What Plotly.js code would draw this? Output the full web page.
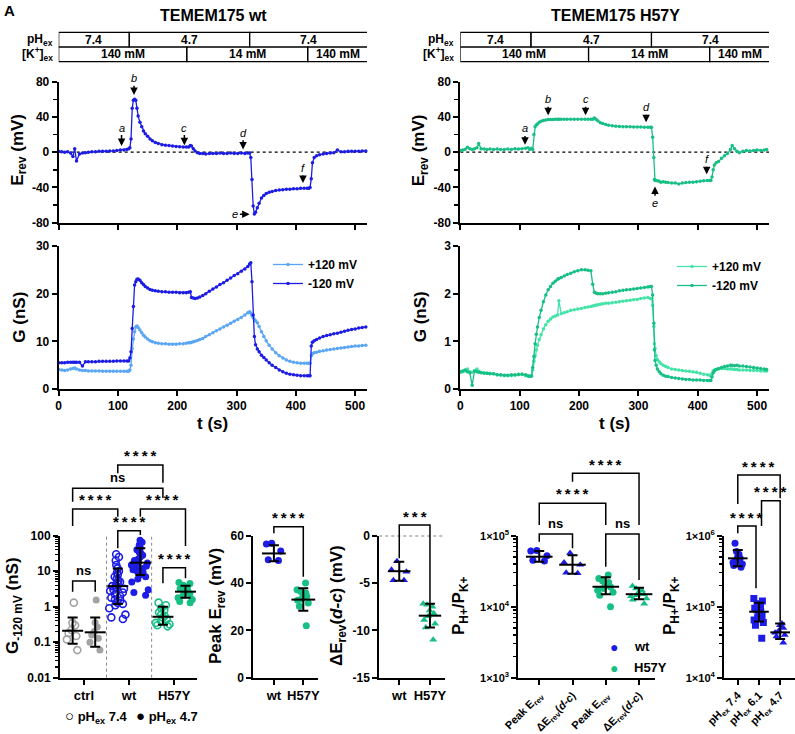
<!DOCTYPE html>
<html>
<head>
<meta charset="utf-8">
<script src="https://cdn.plot.ly/plotly-3.0.1.min.js"></script>
<style>html,body{margin:0;padding:0;background:#fff}#chart{width:795px;height:734px}</style>
</head>
<body>
<div id="chart"></div>
<script>
// ---------- recordings: TEMEM175 wt ----------
const WT_T = [
  0,5,10,15,20,24,27,30,35,40,45,50,56,62,68,74,80,86,92,98,104,110,115,
  118,120,122,124,126,128,130,132,134,137,140,143,146,
  150,154,158,163,168,174,180,186,192,198,204,210,215,219,
  222,224,227,230,234,238,243,248,254,260,266,272,278,284,290,296,302,308,314,319,
  322,324,326,328,330,332,335,338,342,346,350,355,360,366,372,378,384,390,396,402,408,414,419,
  422,424,426,428,431,435,440,446,452,458,464,470,476,482,488,494,500,506,512,518];
const WT_EREV = [
  1,0.5,0,0.5,-1,-5,4,-10,-2,-1,-0.5,0,0.5,0.5,1,1,1,1.5,1.5,2,2.5,2.5,3,
  4,5,15,50,59,60,59,50,41,34,29,24,21,
  18,15,13,11,10,8.5,8,7.5,7,6.5,6.2,6,5.8,6,
  7.5,7,4,1.5,-0.5,-1.5,-1.5,-2,-1.5,-1.5,-1.5,-1,-1.5,-1.5,-1,-1.5,-1.5,-1,-1.5,-1,
  -1,-6,-31,-61,-70,-68,-63,-58,-52,-49,-47,-45.5,-44.5,-43.5,-43,-42.5,-42,-42,-41.5,-41.5,-41,-41,-41,
  -41,-40,-30,-12,-6,-4,-3,-2,-1.5,-1,-0.5,2.5,0.5,0.5,1,1,1,1,1.5,1.5];
const WT_G_NEG = [
  5.5,5.5,5.5,5.6,5.6,5.6,5.6,5.6,5.6,4.8,5.7,5.7,5.7,5.7,5.8,5.8,5.8,5.8,5.8,5.9,5.9,5.9,5.9,
  5.9,6.5,7.8,12.7,17.3,21.8,22.5,23.0,23.1,22.8,22.3,21.9,21.5,
  21.2,20.9,20.7,20.6,20.5,20.4,20.4,20.3,20.3,20.3,20.2,20.2,20.2,20.3,
  20.4,19.2,19.1,19.0,19.1,19.3,19.6,20.0,20.5,21.0,21.4,21.9,22.3,22.8,23.3,23.8,24.2,24.7,25.2,25.7,
  26.2,26.5,22.5,15.5,11,9.3,8.4,7.8,7.1,6.6,6.1,5.5,5.0,4.5,4.0,3.6,3.3,3.1,3.0,2.9,2.8,2.8,2.8,
  2.8,2.8,9.0,9.8,10.1,10.4,10.7,11.0,11.2,11.4,11.6,11.7,11.9,12.1,12.3,12.5,12.6,12.8,12.9,13.0];
const WT_G_POS = [
  4.1,4.0,3.9,4.0,4.2,4.3,4.4,4.2,4.0,3.9,3.9,3.8,3.8,3.8,3.8,3.7,3.7,3.7,3.7,3.7,3.7,3.7,3.7,
  3.7,4.0,5.0,8.5,10.5,12.0,13.0,13.2,12.9,12.4,11.8,11.3,10.9,
  10.5,10.1,9.9,9.7,9.6,9.5,9.5,9.4,9.4,9.4,9.5,9.5,9.6,9.7,
  9.7,9.8,9.9,10.0,10.2,10.4,10.6,11.0,11.4,11.8,12.2,12.6,13.0,13.4,13.8,14.2,14.6,15.0,15.5,16.0,
  16.2,15.9,15.4,15.0,14.6,14.3,13.9,13.1,12.0,11.0,10.1,9.2,8.4,7.6,7.0,6.5,6.1,5.8,5.6,5.5,5.4,5.4,5.4,
  5.4,5.4,7.0,7.4,7.6,7.7,7.9,8.0,8.2,8.3,8.4,8.5,8.6,8.7,8.8,8.9,9.0,9.0,9.1,9.2];

// ---------- recordings: TEMEM175 H57Y ----------
const MUT_T = [
  0,4,8,12,16,20,24,28,31,35,40,45,50,56,62,68,74,80,86,92,98,104,110,114,117,
  120,122,124,126,128,130,133,136,140,144,148,152,156,160,
  164,166,170,175,180,186,192,198,204,210,215,220,
  223,226,229,232,236,240,245,250,256,262,268,274,280,286,292,298,304,310,316,320,
  322,324,326,327,328,330,332,335,338,342,346,350,356,362,368,374,380,386,392,398,404,410,416,420,
  422,424,426,428,431,435,440,445,450,455,458,462,466,470,476,482,488,494,500,506,512,516];
const MUT_EREV = [
  2,2.5,3,5.5,4,3,4,5,10,4,3.5,3,3.5,3,3.5,3,3,3.5,3,4,3.5,4,4.5,5,3,
  4.5,3,20,29,31,32,34,35,36,36.5,37,37,37,37.3,
  37.3,37.3,37.3,37.3,37.5,37.3,37.3,37.5,37.3,37.3,37.3,37.5,
  37.5,38.9,37,35.5,33.5,32.5,31.5,30.5,30,29.5,29.3,29,29,28.8,28.7,28.6,28.5,28.4,28.3,28.2,
  28.2,17,-6,-31,-32,-32,-32.5,-33,-34,-33.5,-34,-34.5,-35,-35,-36,-35,-34.5,-34,-34,-33.5,-33,-32.5,-32,-32,
  -32,-28,-20,-14.5,-12,-10.5,-7,-4,-1.5,3,7.5,4,1,-0.5,1,2,1.5,2,2.5,2,2.5,3];
const MUT_G_NEG = [
  0.36,0.38,0.40,0.36,0.34,0.08,0.38,0.36,0.35,0.34,0.33,0.33,0.32,0.32,0.30,0.30,0.29,0.29,0.30,0.30,0.31,0.31,0.30,0.28,0.27,
  0.28,0.45,0.68,0.95,1.15,1.3,1.5,1.65,1.83,1.97,2.08,2.15,2.22,2.26,
  2.3,2.32,2.34,2.37,2.4,2.43,2.46,2.48,2.5,2.5,2.49,2.48,
  2.2,2.03,2.01,2.0,2.0,2.0,2.01,2.02,2.03,2.04,2.06,2.07,2.08,2.09,2.1,2.11,2.12,2.13,2.14,2.15,
  2.15,1.97,1.38,0.82,0.6,0.5,0.42,0.36,0.32,0.29,0.27,0.26,0.24,0.23,0.22,0.21,0.2,0.2,0.19,0.19,0.19,0.18,0.18,0.18,
  0.18,0.25,0.34,0.38,0.41,0.43,0.45,0.47,0.48,0.5,0.5,0.49,0.5,0.48,0.48,0.47,0.46,0.45,0.44,0.43,0.42,0.41];
const MUT_G_POS = [
  0.35,0.36,0.38,0.42,0.36,0.35,0.38,0.42,0.37,0.35,0.34,0.33,0.33,0.32,0.30,0.29,0.28,0.28,0.28,0.29,0.30,0.31,0.28,0.27,0.26,
  0.27,0.4,0.58,0.7,0.82,0.92,1.04,1.14,1.26,1.35,1.42,1.47,1.51,1.53,
  1.55,1.85,1.58,1.6,1.62,1.65,1.66,1.68,1.69,1.71,1.72,1.73,
  1.74,1.75,1.76,1.77,1.78,1.79,1.8,1.8,1.81,1.82,1.83,1.84,1.85,1.86,1.87,1.88,1.9,1.91,1.92,1.9,
  1.9,1.75,1.31,0.95,0.85,0.7,0.62,0.57,0.53,0.5,0.47,0.45,0.42,0.41,0.4,0.39,0.38,0.37,0.36,0.35,0.33,0.31,0.3,0.29,
  0.28,0.32,0.38,0.4,0.41,0.42,0.43,0.43,0.42,0.42,0.42,0.41,0.41,0.4,0.4,0.4,0.39,0.39,0.39,0.38,0.38,0.38];

// solution exchange protocol (switch times, s)
const PH_SWITCH = [0, 119, 322, 521];
const PH_LABELS = ['7.4', '4.7', '7.4'];
const K_SWITCH = [0, 216, 420, 521];
const K_LABELS = ['140 mM', '14 mM', '140 mM'];

// time points marked a-f and their Erev levels (arrow tip / label)
const EVENT_NAMES = ['a', 'b', 'c', 'd', 'e', 'f'];
const WT_EVENT_T = [106, 127, 212, 311, 322, 412];
const WT_EVENT_TIP = [7, 65, 8, 3, -70.5, -35];
const WT_EVENT_LABEL = [28, 84, 28, 22, -70.5, -18];
const MUT_EVENT_T = [109, 148, 211, 313, 328, 415];
const MUT_EVENT_TIP = [8.4, 42, 42, 34, -39, -25];
const MUT_EVENT_LABEL = [27, 60, 60, 51, -58, -8];

// ---------- G at -120 mV ----------
const G_CATS = ['ctrl', 'wt', 'H57Y'];
const G_CTRL_74 = [1.3, 0.35, 0.3, 0.22, 0.18, 0.15, 0.12, 0.06];
const G_CTRL_47 = [1.55, 0.36, 0.27, 0.2, 0.16, 0.13, 0.1, 0.06];
const G_WT_74 = [30, 25, 20, 15, 12, 10, 9, 8, 7, 6, 5.5, 5, 4.5, 4, 3.8, 3.5, 3.2, 3, 2.8, 2.5, 2.2, 2, 1.8, 1.6, 1.5, 1.3, 1.2, 1.1, 0.9, 0.6, 0.5, 0.45];
const G_WT_47 = [75, 65, 55, 45, 40, 35, 32, 28, 25, 22, 20, 18, 17, 16, 15, 14, 13, 12, 11, 10, 9, 8, 7, 6, 5, 3, 2.5, 2.1];
const G_MUT_74 = [1.3, 1.1, 0.9, 0.8, 0.7, 0.6, 0.55, 0.5, 0.45, 0.4, 0.35, 0.32, 0.3, 0.28];
const G_MUT_47 = [4.8, 4.5, 4, 3.6, 3.2, 3, 2.8, 2.5, 2.3, 2.1, 1.8, 1.6, 1.4, 1.3];
const G_CENTER = [0.21, 0.19, 3.8, 17.4, 0.52, 2.65];
const G_HIGH = [0.5, 0.5, 12, 44, 1.0, 3.9];
const G_LOW = [0.09, 0.075, 1.2, 7.8, 0.31, 1.8];

// ---------- peak Erev ----------
const PAIR_CATS = ['wt', 'H57Y'];
const PEAK_WT = [56.8, 56.5, 53.5, 49.8, 49.5];
const PEAK_MUT = [40, 37.2, 36.5, 35.8, 35.1, 34.4, 33.3, 32.7, 31.6, 30.2, 22];
const PEAK_CENTER = [52.5, 33];
const PEAK_HIGH = [56, 37.8];
const PEAK_LOW = [49.2, 28.3];

// ---------- delta Erev (d-c) ----------
const DE_WT = [-2.7, -3.6, -3.8, -4.7, -4.7];
const DE_MUT = [-7.2, -7.3, -7.5, -7.9, -8.2, -8.5, -8.9, -9.3, -9.7, -11.0];
const DE_CENTER = [-3.75, -8.45];
const DE_HIGH = [-2.75, -7.2];
const DE_LOW = [-4.75, -9.7];

// ---------- PH+/PK+ by method ----------
const PERM_CATS = ['Peak E<sub>rev</sub>', 'ΔE<sub>rev</sub>(<i>d-c</i>)', 'Peak E<sub>rev</sub>', 'ΔE<sub>rev</sub>(<i>d-c</i>)'];
const PERM_WT_PEAK = [62000, 61000, 52000, 45000, 44000];
const PERM_WT_DE = [57000, 42000, 39000, 30000, 29500];
const PERM_MUT_PEAK = [28000, 25000, 23000, 22000, 20000, 19000, 18000, 17000, 16000, 14500, 10000];
const PERM_MUT_DE = [19500, 18000, 17000, 16000, 15000, 14500, 14000, 13000, 12500, 11000];
const PERM_CENTER = [50600, 39000, 19100, 15000];
const PERM_HIGH = [61000, 53000, 26000, 18500];
const PERM_LOW = [43000, 29000, 15000, 12700];

// ---------- PH+/PK+ by external pH (wt) ----------
const PH_CATS = ['pH<sub>ex</sub> 7.4', 'pH<sub>ex</sub> 6.1', 'pH<sub>ex</sub> 4.7'];
const PERM_PH74 = [780000, 600000, 550000, 500000, 480000, 450000, 420000, 400000, 380000, 360000];
const PERM_PH61 = [130000, 120000, 110000, 100000, 95000, 90000, 85000, 80000, 75000, 70000, 65000, 60000, 55000, 36000];
const PERM_PH47 = [58000, 55000, 50000, 46000, 43000, 40000, 38000, 31000];
const PH_CENTER = [480000, 85000, 43500];
const PH_HIGH = [630000, 114000, 58000];
const PH_LOW = [370000, 62000, 35000];

// ---------- styling ----------
const W = 795, H = 734;
const FONT = 'Arial, "Liberation Sans", Helvetica, sans-serif';
const BLUE = '#1c1ce6', LIGHTBLUE = '#5aa6f5';
const GREEN = '#18bf84', LIGHTGREEN = '#45e3a8';
const GREY = '#a3a3a3';
const px = v => v / W;
const py = v => 1 - v / H;

function axis(extra) {
  return Object.assign({
    showline: true, linecolor: 'black', linewidth: 2,
    ticks: 'outside', ticklen: 5, tickwidth: 2, tickcolor: 'black',
    showgrid: false, zeroline: false, automargin: false, fixedrange: true,
    tickfont: {family: FONT, size: 12, color: 'black', weight: 'bold'}
  }, extra);
}
function logMinor(lo, hi) {
  const v = [];
  for (let e = lo; e < hi; e++) for (let m = 2; m <= 9; m++) v.push(m * Math.pow(10, e));
  return v;
}
function hyphen(vals) { return vals.map(v => String(v).replace('\u2212', '-')); }

const traces = [];
const shapes = [];
const annotations = [];

function txt(text, x, y, opt) {
  annotations.push(Object.assign({
    text: text, xref: 'paper', yref: 'paper', x: px(x), y: py(y),
    showarrow: false, xanchor: 'center', yanchor: 'middle',
    font: {family: FONT, size: 12, color: 'black', weight: 'bold'}
  }, opt || {}));
}
function ytitle(text, x, y, size) {
  txt(text, x, y, {textangle: -90, font: {family: FONT, size: size || 17, color: 'black', weight: 'bold'}});
}

// ---------- time-course panels ----------
function timePanel(k, T, EREV, GPOS, GNEG, cE, cPos, cNeg, left, title, legendId,
                   evT, evTip, evLabel, eHoriz) {
  const xa = 'x' + (k === 1 ? '' : k), ya = 'y' + (k === 1 ? '' : k);
  const xb = 'x' + (k + 1), yb = 'y' + (k + 1);
  traces.push({x: T, y: EREV, xaxis: xa, yaxis: ya, type: 'scatter', mode: 'lines+markers',
    line: {color: cE, width: 1.3}, marker: {color: cE, size: 3.5}, showlegend: false, cliponaxis: false});
  traces.push({x: T, y: GPOS, xaxis: xb, yaxis: yb, type: 'scatter', mode: 'lines+markers', name: '+120 mV',
    line: {color: cPos, width: 1.3}, marker: {color: cPos, size: 3.5}, legend: legendId, cliponaxis: false});
  traces.push({x: T, y: GNEG, xaxis: xb, yaxis: yb, type: 'scatter', mode: 'lines+markers', name: '-120 mV',
    line: {color: cNeg, width: 1.3}, marker: {color: cNeg, size: 3.5}, legend: legendId, cliponaxis: false});

  // zero reference
  shapes.push({type: 'line', xref: xa, yref: ya, x0: 0, x1: 520, y0: 0, y1: 0,
    line: {color: 'black', width: 1.3, dash: 'dot'}, layer: 'below'});

  // solution table
  const rows = [[PH_SWITCH, PH_LABELS, 32.3, 47], [K_SWITCH, K_LABELS, 47, 61.7]];
  rows.forEach(([sw, lab, top, bot]) => {
    for (let i = 0; i < lab.length; i++) {
      shapes.push({type: 'rect', xref: xa, yref: 'paper', x0: sw[i], x1: sw[i + 1], y0: py(bot), y1: py(top),
        line: {color: 'black', width: 1.2}});
      annotations.push({text: lab[i], xref: xa, yref: 'paper', x: (sw[i] + sw[i + 1]) / 2, y: py((top + bot) / 2),
        showarrow: false, font: {family: FONT, size: 12, color: 'black', weight: 'bold'}, yanchor: 'middle'});
    }
  });
  txt('pH<sub>ex</sub>', left - 4, 39.7, {xanchor: 'right'});
  txt('[K<sup>+</sup>]<sub>ex</sub>', left - 4, 54.3, {xanchor: 'right'});
  txt(title, left + 155, 16, {font: {family: FONT, size: 16, color: 'black', weight: 'bold'}});

  // event markers a-f
  for (let i = 0; i < EVENT_NAMES.length; i++) {
    const horiz = eHoriz && EVENT_NAMES[i] === 'e';
    annotations.push({
      text: '<i>' + EVENT_NAMES[i] + '</i>', xref: xa, yref: ya,
      x: evT[i], y: evTip[i],
      ax: horiz ? evT[i] - 24 : evT[i], ay: evLabel[i], axref: xa, ayref: ya,
      showarrow: true, arrowhead: 2, arrowsize: 1, arrowwidth: 1.5, arrowcolor: 'black', standoff: 0,
      font: {family: FONT, size: 11, color: 'black'}
    });
  }
  ytitle('E<sub>rev</sub> (mV)', left - 40, 150);
  ytitle('G (nS)', left - 40, 317);
  txt('t (s)', left + 154, 423, {font: {family: FONT, size: 17, color: 'black', weight: 'bold'}});
}

timePanel(1, WT_T, WT_EREV, WT_G_POS, WT_G_NEG, BLUE, LIGHTBLUE, BLUE, 58.7, 'TEMEM175 wt',
  'legend', WT_EVENT_T, WT_EVENT_TIP, WT_EVENT_LABEL, true);
timePanel(3, MUT_T, MUT_EREV, MUT_G_POS, MUT_G_NEG, GREEN, LIGHTGREEN, GREEN, 460.3, 'TEMEM175 H57Y',
  'legend2', MUT_EVENT_T, MUT_EVENT_TIP, MUT_EVENT_LABEL, false);

// ---------- scatter-with-mean panels ----------
function group(xa, ya, pos, vals, color, symbol, open, width) {
  traces.push({type: 'box', x0: pos, y: vals, xaxis: xa, yaxis: ya, boxpoints: 'all', jitter: 1, pointpos: 0,
    width: width, line: {width: 0, color: 'rgba(0,0,0,0)'}, fillcolor: 'rgba(0,0,0,0)',
    marker: {symbol: symbol, size: 7, color: color, line: {width: open ? 1.6 : 0, color: color}},
    showlegend: false, hoverinfo: 'y'});
}
function meanSD(xa, ya, center, hi, lo, len) {
  traces.push({type: 'scatter', mode: 'markers', xaxis: xa, yaxis: ya,
    x: center.map((_, i) => i), y: center,
    marker: {symbol: 'line-ew', size: len, color: 'black', line: {color: 'black', width: 2}},
    error_y: {type: 'data', symmetric: false, array: hi.map((h, i) => h - center[i]),
      arrayminus: lo.map((l, i) => center[i] - l), color: 'black', thickness: 2, width: 5},
    showlegend: false, cliponaxis: false});
}
function bracket(xa, x1, x2, yTop, y1, y2, label, labelY) {
  shapes.push({type: 'path', xref: xa, yref: 'paper',
    path: `M${x1},${py(y1)} L${x1},${py(yTop)} L${x2},${py(yTop)} L${x2},${py(y2)}`,
    line: {color: 'black', width: 1.5}});
  const stars = label !== 'ns';
  annotations.push({text: stars ? label.split('').join('\u2009') : label, xref: xa, yref: 'paper',
    x: (x1 + x2) / 2, y: py(labelY), showarrow: false, yanchor: 'middle',
    font: {family: FONT, size: stars ? 15 : 13, color: 'black', weight: 'bold'}});
}

// panel: conductance
group('x5', 'y5', 0, G_CTRL_74, GREY, 'circle-open', true, 0.8);
group('x5', 'y5', 1, G_CTRL_47, GREY, 'circle', false, 0.8);
group('x5', 'y5', 2, G_WT_74, BLUE, 'circle-open', true, 0.9);
group('x5', 'y5', 3, G_WT_47, BLUE, 'circle', false, 0.9);
group('x5', 'y5', 4, G_MUT_74, GREEN, 'circle-open', true, 0.8);
group('x5', 'y5', 5, G_MUT_47, GREEN, 'circle', false, 0.8);
meanSD('x5', 'y5', G_CENTER, G_HIGH, G_LOW, 15);
[1.5, 3.5].forEach(x => shapes.push({type: 'line', xref: 'x5', yref: 'paper', x0: x, x1: x, y0: py(677.7), y1: py(535.7),
  line: {color: '#888', width: 1, dash: 'dot'}, layer: 'below'}));
bracket('x5', 0, 1, 581, 591.7, 591.7, 'ns', 570);
bracket('x5', 4, 5, 567.7, 583.3, 578.3, '****', 558.3);
bracket('x5', 2, 3, 530.7, 548.3, 535, '****', 521.7);
bracket('x5', 0, 2, 509, 526, 516.7, '****', 500);
bracket('x5', 3, 5, 509, 516.7, 546, '****', 500);
bracket('x5', 0, 4, 488.3, 501.7, 498, 'ns', 478);
bracket('x5', 2, 4, 465, 473.3, 482.7, '****', 455);
ytitle('G<sub>-120 mV</sub> (nS)', 14, 606);
txt('<span style="font-size:15px">○</span> pH<sub>ex</sub> 7.4', 96, 716, {font: {family: FONT, size: 13, color: 'black', weight: 'bold'}});
txt('<span style="font-size:15px">●</span> pH<sub>ex</sub> 4.7', 167, 716, {font: {family: FONT, size: 13, color: 'black', weight: 'bold'}});

// panel: peak Erev
group('x6', 'y6', 0, PEAK_WT, BLUE, 'circle', false, 0.6);
group('x6', 'y6', 1, PEAK_MUT, GREEN, 'circle', false, 0.6);
meanSD('x6', 'y6', PEAK_CENTER, PEAK_HIGH, PEAK_LOW, 17);
bracket('x6', 0, 1, 526.7, 533.3, 576.7, '****', 517.3);
ytitle('Peak E<sub>rev</sub> (mV)', 217, 606);

// panel: delta Erev
shapes.push({type: 'line', xref: 'x7', yref: 'y7', x0: -0.65, x1: 1.49, y0: 0, y1: 0,
  line: {color: 'black', width: 1.3, dash: 'dot'}, layer: 'below'});
group('x7', 'y7', 0, DE_WT, BLUE, 'triangle-up', false, 0.6);
group('x7', 'y7', 1, DE_MUT, GREEN, 'triangle-up', false, 0.6);
meanSD('x7', 'y7', DE_CENTER, DE_HIGH, DE_LOW, 16);
bracket('x7', 0, 1, 525, 558.3, 603.3, '***', 516);
ytitle('ΔE<sub>rev</sub>(<i>d-c</i>) (mV)', 338, 606);

// panel: permeability ratio by method
group('x8', 'y8', 0, PERM_WT_PEAK, BLUE, 'circle', false, 0.6);
group('x8', 'y8', 1, PERM_WT_DE, BLUE, 'triangle-up', false, 0.6);
group('x8', 'y8', 2, PERM_MUT_PEAK, GREEN, 'circle', false, 0.6);
group('x8', 'y8', 3, PERM_MUT_DE, GREEN, 'triangle-up', false, 0.6);
meanSD('x8', 'y8', PERM_CENTER, PERM_HIGH, PERM_LOW, 19);
bracket('x8', 0, 1, 534, 541.7, 548.3, 'ns', 523.3);
bracket('x8', 2, 3, 534, 566.7, 580, 'ns', 523.3);
bracket('x8', 0, 2, 503.3, 525, 525, '****', 493.3);
bracket('x8', 1, 3, 473.3, 481.7, 525, '****', 464);
ytitle('P<sub>H+</sub>/P<sub>K+</sub>', 460, 606);
txt('●', 614, 646.7, {font: {family: FONT, size: 14, color: BLUE}});
txt('wt', 632, 646.7, {xanchor: 'left', font: {family: FONT, size: 13, color: 'black', weight: 'bold'}});
txt('●', 614, 667.7, {font: {family: FONT, size: 14, color: GREEN}});
txt('H57Y', 632, 667.7, {xanchor: 'left', font: {family: FONT, size: 13, color: 'black', weight: 'bold'}});

// panel: permeability ratio by external pH
group('x9', 'y9', 0, PERM_PH74, BLUE, 'circle', false, 0.6);
group('x9', 'y9', 1, PERM_PH61, BLUE, 'square', false, 0.6);
group('x9', 'y9', 2, PERM_PH47, BLUE, 'triangle-up', false, 0.6);
meanSD('x9', 'y9', PH_CENTER, PH_HIGH, PH_LOW, 14);
bracket('x9', 0, 0.86, 526, 533.3, 588.3, '****', 517.3);
bracket('x9', 1.12, 2, 500.7, 526, 621.7, '****', 491.7);
bracket('x9', 0, 2, 475, 504, 498.3, '****', 466);
ytitle('P<sub>H+</sub>/P<sub>K+</sub>', 671, 606);

txt('A', 9, 11, {font: {family: FONT, size: 15, color: 'black', weight: 'bold'}});

// ---------- axes ----------
const tX = [0, 100, 200, 300, 400, 500];
const eTicks = [-80, -40, 0, 40, 80];
const rotFont = {family: FONT, size: 11, color: 'black', weight: 'bold'};
const layout = {
  width: W, height: H, margin: {l: 0, r: 0, t: 0, b: 0},
  paper_bgcolor: 'white', plot_bgcolor: 'rgba(0,0,0,0)',
  font: {family: FONT, color: 'black'},
  showlegend: true,
  legend: {x: px(268), y: py(250), xanchor: 'left', yanchor: 'top', bgcolor: 'rgba(0,0,0,0)',
    font: {family: FONT, size: 12, color: 'black', weight: 'bold'}, tracegroupgap: 0},
  legend2: {x: px(672), y: py(252), xanchor: 'left', yanchor: 'top', bgcolor: 'rgba(0,0,0,0)',
    font: {family: FONT, size: 12, color: 'black', weight: 'bold'}, tracegroupgap: 0},
  // wt Erev / G
  xaxis: axis({domain: [px(58.7), px(367)], range: [0, 520], anchor: 'y', tickvals: tX, showticklabels: false}),
  yaxis: axis({domain: [py(222.7), py(81.7)], range: [-80, 80], anchor: 'x', tickvals: eTicks, ticktext: hyphen(eTicks),
    minor: {tickvals: [-60, -20, 20, 60], ticklen: 4, tickwidth: 1.5, tickcolor: 'black', ticks: 'outside'}}),
  xaxis2: axis({domain: [px(58.7), px(367)], range: [0, 520], anchor: 'y2', tickvals: tX}),
  yaxis2: axis({domain: [py(389), py(246)], range: [0, 30], anchor: 'x2', tickvals: [0, 10, 20, 30]}),
  // H57Y Erev / G
  xaxis3: axis({domain: [px(460.3), px(769)], range: [0, 520], anchor: 'y3', tickvals: tX, showticklabels: false}),
  yaxis3: axis({domain: [py(222.7), py(81.7)], range: [-80, 80], anchor: 'x3', tickvals: eTicks, ticktext: hyphen(eTicks),
    minor: {tickvals: [-60, -20, 20, 60], ticklen: 4, tickwidth: 1.5, tickcolor: 'black', ticks: 'outside'}}),
  xaxis4: axis({domain: [px(460.3), px(769)], range: [0, 520], anchor: 'y4', tickvals: tX}),
  yaxis4: axis({domain: [py(389), py(246)], range: [0, 3], anchor: 'x4', tickvals: [0, 1, 2, 3]}),
  // conductance
  xaxis5: axis({domain: [px(60), px(197)], range: [-0.56, 5.51], type: 'linear', anchor: 'y5',
    tickvals: [0.5, 2.5, 4.5], ticktext: G_CATS, tickfont: {family: FONT, size: 13, color: 'black', weight: 'bold'}}),
  yaxis5: axis({domain: [py(677.7), py(535.7)], type: 'log', range: [-2, 2], anchor: 'x5',
    tickvals: [0.01, 0.1, 1, 10, 100], ticktext: ['0.01', '0.1', '1', '10', '100'],
    minor: {tickvals: logMinor(-2, 2), ticklen: 3, tickwidth: 1.2, tickcolor: 'black', ticks: 'outside'}}),
  // peak Erev
  xaxis6: axis({domain: [px(253.3), px(318)], range: [-0.7, 1.5], type: 'linear', anchor: 'y6',
    tickvals: [0, 1], ticktext: PAIR_CATS, tickfont: {family: FONT, size: 13, color: 'black', weight: 'bold'}}),
  yaxis6: axis({domain: [py(677.7), py(535.7)], range: [0, 60], anchor: 'x6', tickvals: [0, 20, 40, 60]}),
  // delta Erev
  xaxis7: axis({domain: [px(379.3), px(445)], range: [-0.65, 1.49], type: 'linear', anchor: 'y7',
    tickvals: [0, 1], ticktext: PAIR_CATS, tickfont: {family: FONT, size: 13, color: 'black', weight: 'bold'}}),
  yaxis7: axis({domain: [py(677.7), py(535.7)], range: [-15, 0], anchor: 'x7', tickvals: [-15, -10, -5, 0],
    ticktext: ['-15', '-10', '-5', '0']}),
  // PH/PK by method
  xaxis8: axis({domain: [px(518.3), px(655)], range: [-0.63, 3.48], type: 'linear', anchor: 'y8',
    tickvals: [0, 1, 2, 3], ticktext: PERM_CATS, tickangle: -45, tickfont: rotFont}),
  yaxis8: axis({domain: [py(677.7), py(535.7)], type: 'log', range: [3, 5], anchor: 'x8',
    tickvals: [1e3, 1e4, 1e5], ticktext: ['1×10<sup>3</sup>', '1×10<sup>4</sup>', '1×10<sup>5</sup>'],
    tickfont: {family: FONT, size: 11, color: 'black', weight: 'bold'},
    minor: {tickvals: logMinor(3, 5), ticklen: 3, tickwidth: 1.2, tickcolor: 'black', ticks: 'outside'}}),
  // PH/PK by pH
  xaxis9: axis({domain: [px(724), px(795)], range: [-0.65, 2.7], type: 'linear', anchor: 'y9',
    tickvals: [0, 1, 2], ticktext: PH_CATS, tickangle: -45, tickfont: rotFont}),
  yaxis9: axis({domain: [py(677.7), py(535.7)], type: 'log', range: [4, 6], anchor: 'x9',
    tickvals: [1e4, 1e5, 1e6], ticktext: ['1×10<sup>4</sup>', '1×10<sup>5</sup>', '1×10<sup>6</sup>'],
    tickfont: {family: FONT, size: 11, color: 'black', weight: 'bold'},
    minor: {tickvals: logMinor(4, 6), ticklen: 3, tickwidth: 1.2, tickcolor: 'black', ticks: 'outside'}}),
  shapes: shapes,
  annotations: annotations
};

Plotly.newPlot('chart', traces, layout, {displayModeBar: false, staticPlot: true});
</script>
</body>
</html>
